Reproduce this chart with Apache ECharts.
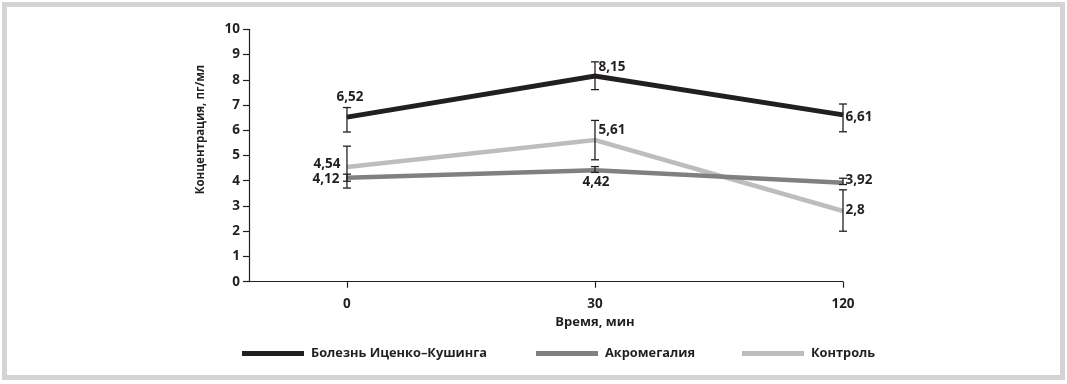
<!DOCTYPE html>
<html><head><meta charset="utf-8">
<script src="https://cdn.jsdelivr.net/npm/echarts@6/dist/echarts.min.js"></script>
<style>
html,body{margin:0;padding:0;background:#fff;}
#frame{position:absolute;left:2px;top:2px;width:1063px;height:378px;box-sizing:border-box;border:5px solid #d3d4d6;}
#chart{position:absolute;left:0;top:0;width:1067px;height:384px;}
</style></head>
<body><div id="frame"></div><div id="chart"></div>
<script>
const categories = ['0', '30', '120'];
const seriesNames = ['Болезнь Иценко–Кушинга', 'Акромегалия', 'Контроль'];
const cushing = [6.52, 8.15, 6.61];
const acro = [4.12, 4.42, 3.92];
const control = [4.54, 5.61, 2.8];
const cushingLow = [5.93, 7.61, 5.94];
const cushingHigh = [6.90, 8.71, 7.04];
const acroLow = [3.98, 4.33, 3.85];
const acroHigh = [4.26, 4.56, 4.10];
const controlLow = [3.71, 4.83, 2.0];
const controlHigh = [5.37, 6.39, 3.64];
const yTicks = [0, 1, 2, 3, 4, 5, 6, 7, 8, 9, 10];

const colors = ['#231f20', '#808082', '#bcbdc0'];
const textColor = '#231f20';
const font = '"Open Sans", "DejaVu Sans", sans-serif';

// label placement per point (style config)
const labelPlace = [
  [{position:'top', offset:[3,-7]}, {position:'right', distance:3, offset:[0,-9]}, {position:'right', distance:2, offset:[0,2]}],
  [{position:'left', distance:7, offset:[0,1]}, {position:'bottom', distance:5, offset:[1,0]}, {position:'right', distance:2, offset:[0,-3]}],
  [{position:'left', distance:6, offset:[0,-3]}, {position:'right', distance:3, offset:[0,-10]}, {position:'right', distance:2, offset:[0,-1]}]
];
const fmt = v => String(v).replace('.', ',');

function lineData(vals, k) {
  return vals.map((v, i) => ({
    value: [i, v],
    label: Object.assign({show: true, formatter: fmt(v)}, labelPlace[k][i])
  }));
}
function errData(lo, hi) { return lo.map((l, i) => [i, l, hi[i]]); }

function renderErr(params, api) {
  const x = api.value(0);
  const p1 = api.coord([x, api.value(1)]);
  const p2 = api.coord([x, api.value(2)]);
  const hw = 4;
  const st = {stroke: textColor, lineWidth: 1.3};
  return {type: 'group', children: [
    {type: 'line', shape: {x1: p1[0], y1: p1[1], x2: p2[0], y2: p2[1]}, style: st},
    {type: 'line', shape: {x1: p1[0]-hw, y1: p1[1], x2: p1[0]+hw, y2: p1[1]}, style: st},
    {type: 'line', shape: {x1: p2[0]-hw, y1: p2[1], x2: p2[0]+hw, y2: p2[1]}, style: st}
  ]};
}

const vals = [cushing, acro, control];
const lows = [cushingLow, acroLow, controlLow];
const highs = [cushingHigh, acroHigh, controlHigh];
const widths = [5, 4.5, 4.5];

const series = [];
vals.forEach((v, k) => {
  series.push({
    name: seriesNames[k], type: 'line', data: lineData(v, k),
    symbol: 'circle', symbolSize: 1, z: 2 + (2 - k) * 0.1,
    itemStyle: {color: colors[k]},
    lineStyle: {color: colors[k], width: widths[k], cap: 'butt', join: 'miter'},
    label: {color: textColor, fontFamily: font, fontWeight: 'bold', fontSize: 13.5},
    emphasis: {disabled: true}, animation: false
  });
});
vals.forEach((v, k) => {
  series.push({
    type: 'custom', name: 'err' + k, data: errData(lows[k], highs[k]),
    renderItem: renderErr, encode: {x: 0, y: [1, 2]}, z: 5, silent: true, animation: false
  });
});

const legendX = [242, 536, 742];
const legends = seriesNames.map((n, k) => ({
  data: [n], left: legendX[k], top: 347, icon: 'rect', itemWidth: 62, itemHeight: 5, itemGap: 0,
  padding: 0, selectedMode: false,
  textStyle: {color: textColor, fontFamily: font, fontWeight: 'bold', fontSize: 12.8, padding: [0,0,0,2]}
}));

const chart = echarts.init(document.getElementById('chart'), null, {renderer: 'canvas'});
chart.setOption({
  animation: false,
  legend: legends,
  grid: {left: 249, right: 224, top: 29.3, bottom: 102.3, containLabel: false},
  xAxis: {
    type: 'value', min: -0.395, max: 2,
    name: 'Время, мин', nameLocation: 'middle', nameGap: 32,
    nameTextStyle: {color: textColor, fontFamily: font, fontWeight: 'bold', fontSize: 13, padding: [0,0,0,98]},
    axisLine: {show: true, onZero: false, lineStyle: {color: textColor, width: 1.2}},
    axisTick: {show: true, customValues: [0, 1, 2], length: 6, lineStyle: {color: textColor, width: 1.2}},
    axisLabel: {customValues: [0, 1, 2], formatter: v => categories[Math.round(v)], margin: 15,
      color: textColor, fontFamily: font, fontWeight: 'bold', fontSize: 13.5},
    splitLine: {show: false}
  },
  yAxis: {
    type: 'value', min: 0, max: 10, interval: 1,
    name: 'Концентрация, пг/мл', nameLocation: 'middle', nameGap: 42, nameRotate: 90,
    nameTextStyle: {color: textColor, fontFamily: font, fontWeight: 'bold', fontSize: 11.5, padding: [0,0,0,52]},
    axisLine: {show: true, onZero: false, lineStyle: {color: textColor, width: 1.2}},
    axisTick: {show: true, inside: false, length: 6, lineStyle: {color: textColor, width: 1.2}},
    axisLabel: {margin: 9, color: textColor, fontFamily: font, fontWeight: 'bold', fontSize: 13.5,
      formatter: v => yTicks.includes(v) ? String(v) : ''},
    splitLine: {show: false}
  },
  series: series
});
</script></body></html>
